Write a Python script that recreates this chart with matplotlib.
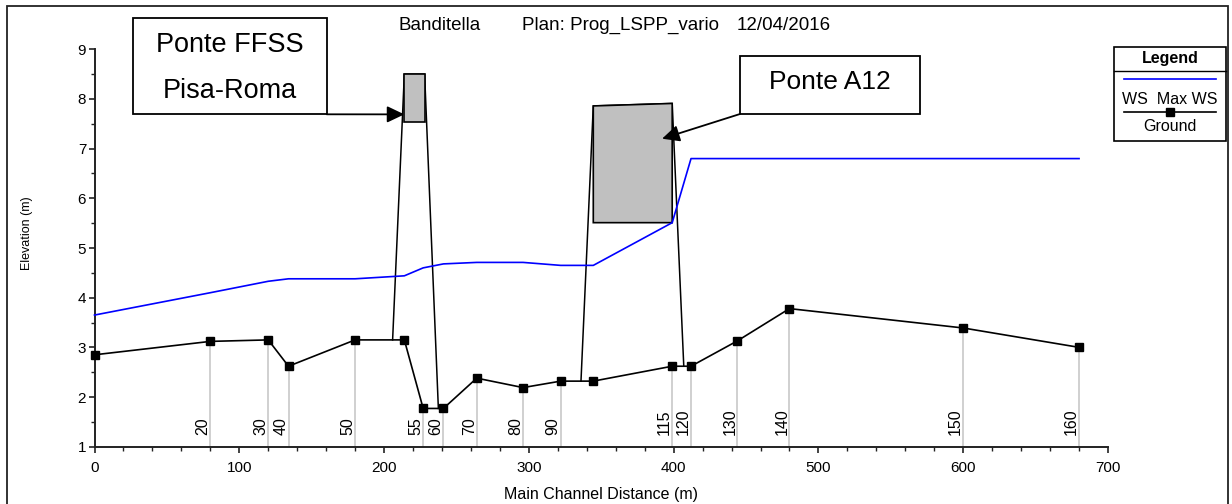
import matplotlib
matplotlib.use("Agg")
import matplotlib.pyplot as plt
from matplotlib.patches import Rectangle
from matplotlib.lines import Line2D
from matplotlib.ticker import MultipleLocator

plt.rcParams['font.family'] = ['Liberation Sans', 'DejaVu Sans']

# ---- data ----
stations = [0, 80, 120, 134, 180, 214, 227, 241, 264, 296, 322, 344.5, 399, 412, 444, 480, 600, 680]
ground = [2.85, 3.12, 3.15, 2.62, 3.15, 3.15, 1.77, 1.77, 2.38, 2.19, 2.32, 2.32, 2.62, 2.62, 3.13, 3.78, 3.39, 3.00]
ws_max = [3.65, 4.10, 4.33, 4.38, 4.38, 4.44, 4.60, 4.68, 4.71, 4.71, 4.65, 4.65, 5.51, 6.80, 6.80, 6.80, 6.80, 6.80]
rs_labels = ['', '20', '30', '40', '50', '', '55', '60', '70', '80', '90', '', '115', '120', '130', '140', '150', '160']

ffss_outline_x = [205.9, 214, 228, 237.5]
ffss_outline_y = [3.15, 8.50, 8.50, 1.77]
ffss_deck_x = [214, 228]
ffss_deck_top = [8.50, 8.50]
ffss_deck_bottom = [7.53, 7.53]

a12_outline_x = [336, 344.5, 399, 407]
a12_outline_y = [2.32, 7.86, 7.91, 2.62]
a12_deck_x = [344.5, 399]
a12_deck_top = [7.86, 7.91]
a12_deck_bottom = [5.51, 5.51]

ffss_arrow_tip = (214, 7.69)
a12_arrow_tip = (392, 7.20)

W, H = 1232, 504
def fx(px):
    return px / W
def fy(py):
    return 1 - py / H

fig = plt.figure(figsize=(W / 100, H / 100), dpi=100)
ax = fig.add_axes([fx(94.5), fy(446.7), (1108 - 94.5) / W, (446.7 - 49.3) / H])

ax.set_xlim(0, 700)
ax.set_ylim(1, 9)
for s in ['top', 'right']:
    ax.spines[s].set_visible(False)
for s in ['left', 'bottom']:
    ax.spines[s].set_linewidth(1.4)
    ax.spines[s].set_color('#222222')

ax.xaxis.set_major_locator(MultipleLocator(100))
ax.xaxis.set_minor_locator(MultipleLocator(20))
ax.yaxis.set_major_locator(MultipleLocator(1))
ax.yaxis.set_minor_locator(MultipleLocator(0.5))
ax.tick_params(which='major', direction='out', length=4, width=1.2, labelsize=11, color='#222222')
ax.tick_params(which='minor', direction='out', length=3, width=1.0, color='#222222')
ax.tick_params(axis='x', which='major', pad=6)
ax.tick_params(axis='y', which='major', pad=2)

# station vertical lines and labels
for x, g, lab in zip(stations, ground, rs_labels):
    if lab:
        ax.plot([x, x], [1, g], color='#c8c8c8', lw=1.2, zorder=1)
        ax.text(x, 1.235, lab, rotation=90, ha='right', va='bottom', fontsize=11.5, zorder=2)

# bridge outlines
ax.plot(ffss_outline_x, ffss_outline_y, color='black', lw=1.1, zorder=3)
ax.plot(a12_outline_x, a12_outline_y, color='black', lw=1.1, zorder=3)

# decks
ax.fill(ffss_deck_x + ffss_deck_x[::-1], ffss_deck_top + ffss_deck_bottom[::-1],
        facecolor='#c0c0c0', edgecolor='black', lw=1.2, zorder=4)
ax.fill(a12_deck_x + a12_deck_x[::-1], a12_deck_top + a12_deck_bottom[::-1],
        facecolor='#c0c0c0', edgecolor='black', lw=1.2, zorder=4)

# WS and ground
ax.plot(stations, ws_max, color='#0000ff', lw=1.2, zorder=5, clip_on=False)
ax.plot(stations, ground, color='black', lw=1.2, marker='s', markersize=5.5,
        zorder=6, clip_on=False)

ax.set_xlabel('Main Channel Distance (m)', fontsize=11.5)
ax.xaxis.set_label_coords(0.5, (446.7 - 495) / 397.4)
ax.xaxis.label.set_va('center')
ax.set_ylabel('Elevation (m)', fontsize=9)
ax.yaxis.set_label_coords((27 - 94.5) / 1013.5, (446.7 - 233) / 397.4)
ax.yaxis.label.set_va('center')

# title
fig.text(fx(399), fy(25), 'Banditella', fontsize=13.5, ha='left', va='center')
fig.text(fx(521.5), fy(25), 'Plan: Prog_LSPP_vario', fontsize=13.5, ha='left', va='center')
fig.text(fx(737), fy(25), '12/04/2016', fontsize=13.5, ha='left', va='center')

# annotation boxes
fig.patches.append(Rectangle((fx(132.7), fy(114.3)), (326.7 - 132.7) / W, (114.3 - 18.3) / H,
                             transform=fig.transFigure, facecolor='white', edgecolor='black', lw=1.3))
fig.text(fx(229.7), fy(45), 'Ponte FFSS', fontsize=19.5, ha='center', va='center')
fig.text(fx(229.7), fy(91), 'Pisa-Roma', fontsize=19.5, ha='center', va='center')

fig.patches.append(Rectangle((fx(740), fy(114)), (920 - 740) / W, (114 - 56) / H,
                             transform=fig.transFigure, facecolor='white', edgecolor='black', lw=1.3))
fig.text(fx(830), fy(82), 'Ponte A12', fontsize=19, ha='center', va='center')

arrow_style = dict(arrowstyle='-|>,head_length=1.05,head_width=0.5', color='black', lw=1.3,
                   shrinkA=0, shrinkB=0)
ax.annotate('', xy=ffss_arrow_tip, xycoords='data', xytext=(fx(326.7), fy(114.3)),
            textcoords='figure fraction', arrowprops=arrow_style, annotation_clip=False, zorder=7)
ax.annotate('', xy=a12_arrow_tip, xycoords='data', xytext=(fx(740), fy(114)),
            textcoords='figure fraction', arrowprops=arrow_style, annotation_clip=False, zorder=7)

# legend box
fig.patches.append(Rectangle((fx(1114), fy(140.7)), (1226 - 1114) / W, (140.7 - 47.3) / H,
                             transform=fig.transFigure, facecolor='white', edgecolor='black', lw=1.2))
fig.add_artist(Line2D([fx(1114), fx(1226)], [fy(70.7), fy(70.7)], transform=fig.transFigure,
                      color='black', lw=1.0))
fig.text(fx(1170), fy(58), 'Legend', fontsize=11.5, fontweight='bold', ha='center', va='center')
fig.add_artist(Line2D([fx(1124), fx(1216)], [fy(79.3), fy(79.3)], transform=fig.transFigure,
                      color='#0000ff', lw=1.2))
fig.text(fx(1170), fy(99.3), 'WS  Max WS', fontsize=11.5, ha='center', va='center')
fig.add_artist(Line2D([fx(1124), fx(1216)], [fy(111.7), fy(111.7)], transform=fig.transFigure,
                      color='black', lw=1.2))
fig.add_artist(Line2D([fx(1170)], [fy(111.7)], transform=fig.transFigure,
                      color='black', marker='s', markersize=5.5, lw=0))
fig.text(fx(1170), fy(126.7), 'Ground', fontsize=11.5, ha='center', va='center')

# outer frame
fig.patches.append(Rectangle((fx(6.5), -0.02), (1228 - 6.5) / W, fy(5.5) + 0.02,
                             transform=fig.transFigure, fill=False, edgecolor='#222222', lw=1.3))

fig.savefig('out.png', dpi=100)
